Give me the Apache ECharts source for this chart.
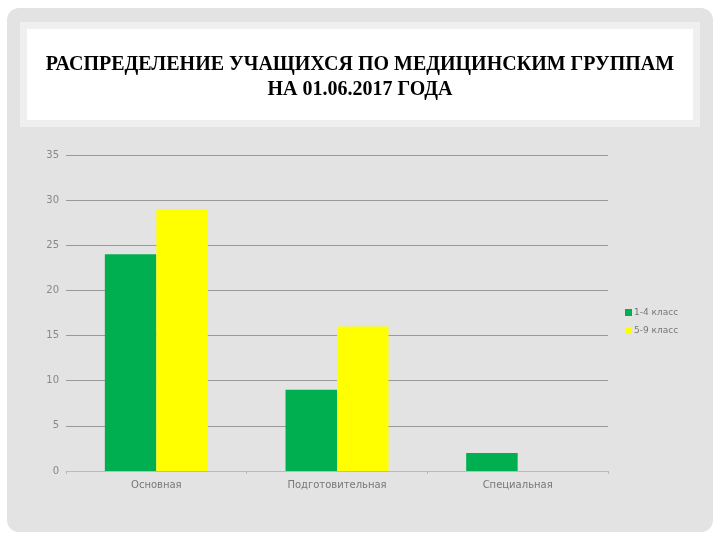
<!DOCTYPE html>
<html>
<head>
<meta charset="utf-8">
<script src="https://cdn.jsdelivr.net/npm/echarts@6/dist/echarts.min.js"></script>
<style>
  html, body { margin: 0; padding: 0; background: #fff; }
  #chart { width: 720px; height: 540px; }
</style>
</head>
<body>
<div id="chart"></div>
<script>
    // ===== 数据 =====
    const titleText = "РАСПРЕДЕЛЕНИЕ УЧАЩИХСЯ ПО МЕДИЦИНСКИМ ГРУППАМ\nНА 01.06.2017 ГОДА";
    const categories = ["Основная", "Подготовительная", "Специальная"];
    const seriesNames = ["1-4 класс", "5-9 класс"];
    const grade1to4 = [24, 9, 2];
    const grade5to9 = [29, 16, 0];
    const colors = ["#00b050", "#ffff00"];

    const chart = echarts.init(document.getElementById("chart"));

    chart.setOption({
        animation: false,
        backgroundColor: "#ffffff",
        // 背景面板 + 标题框
        graphic: [
            { type: "rect", z: -10, shape: { x: 7, y: 8, width: 706, height: 524, r: 12 },
              style: { fill: "#e3e3e3" } },
            { type: "rect", z: -9, shape: { x: 20, y: 22, width: 680, height: 105 },
              style: { fill: "#efefef" } },
            { type: "rect", z: -8, shape: { x: 27, y: 29, width: 666, height: 91 },
              style: { fill: "#ffffff" } }
        ],
        title: {
            text: titleText,
            left: "center",
            top: 47,
            textStyle: {
                fontFamily: "Liberation Serif",
                fontWeight: "bold",
                fontSize: 20,
                lineHeight: 25,
                color: "#000"
            }
        },
        legend: {
            orient: "vertical",
            left: 620,
            top: 303,
            itemWidth: 7,
            itemHeight: 7,
            itemGap: 9,
            icon: "rect",
            data: seriesNames,
            textStyle: { fontFamily: "DejaVu Sans", fontSize: 9, color: "#777", padding: [0, 0, 0, -3] }
        },
        grid: { left: 66, right: 112, top: 155, bottom: 69 },
        xAxis: {
            type: "category",
            data: categories,
            axisLine: { lineStyle: { color: "#bbb" } },
            axisTick: { show: true, alignWithLabel: false, length: 3, lineStyle: { color: "#bbb" } },
            axisLabel: { fontFamily: "DejaVu Sans", fontSize: 10, color: "#777", margin: 9 }
        },
        yAxis: {
            type: "value",
            min: 0,
            max: 35,
            interval: 5,
            axisLine: { show: false },
            axisTick: { show: false },
            splitLine: { lineStyle: { color: "#999" } },
            axisLabel: { fontFamily: "DejaVu Sans", fontSize: 10, color: "#888", margin: 7 }
        },
        series: [
            {
                name: seriesNames[0],
                type: "bar",
                data: grade1to4,
                barGap: "0%",
                barCategoryGap: "43%",
                itemStyle: { color: colors[0] }
            },
            {
                name: seriesNames[1],
                type: "bar",
                data: grade5to9,
                itemStyle: { color: colors[1] }
            }
        ]
    });
</script>
</body>
</html>
